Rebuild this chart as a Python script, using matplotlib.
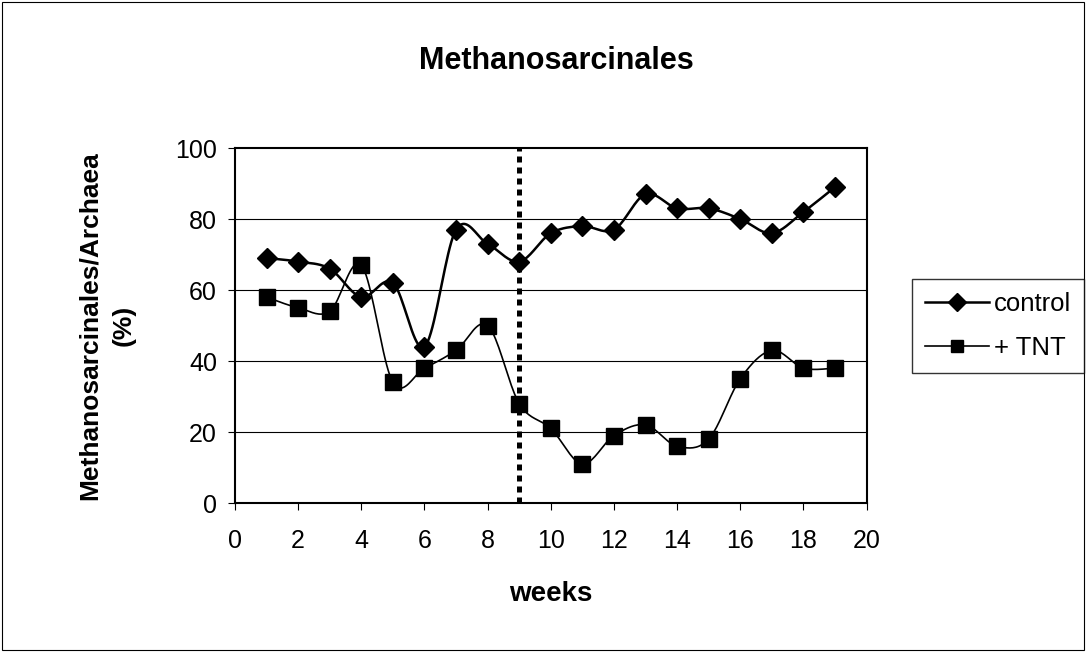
import numpy as np
import matplotlib.pyplot as plt
from matplotlib.lines import Line2D

plt.rcParams['font.family'] = ['Liberation Sans', 'DejaVu Sans']

weeks = list(range(1, 20))
control = [69, 68, 66, 58, 62, 44, 77, 73, 68, 76, 78, 77, 87, 83, 83, 80, 76, 82, 89]
tnt = [58, 55, 54, 67, 34, 38, 43, 50, 28, 21, 11, 19, 22, 16, 18, 35, 43, 38, 38]
treatment_week = 9


def smooth(x, y, n=20):
    # catmull-rom curve through the points, like excel's smoothed line
    x = np.asarray(x, float)
    y = np.asarray(y, float)
    px = np.concatenate([[x[0]], x, [x[-1]]])
    py = np.concatenate([[y[0]], y, [y[-1]]])
    xs, ys = [], []
    for i in range(1, len(px) - 2):
        t = np.linspace(0, 1, n, endpoint=False)
        for p, out in ((px, xs), (py, ys)):
            p0, p1, p2, p3 = p[i - 1], p[i], p[i + 1], p[i + 2]
            out.extend(0.5 * ((2 * p1) + (-p0 + p2) * t
                              + (2 * p0 - 5 * p1 + 4 * p2 - p3) * t ** 2
                              + (-p0 + 3 * p1 - 3 * p2 + p3) * t ** 3))
    xs.append(x[-1])
    ys.append(y[-1])
    return np.array(xs), np.array(ys)


fig = plt.figure(figsize=(10.86, 6.52), dpi=100)
fig.patches.append(plt.Rectangle((0.002, 0.003), 0.996, 0.994, transform=fig.transFigure,
                                 fill=False, edgecolor='black', linewidth=0.8))
ax = fig.add_axes([0.2164, 0.2285, 0.5816, 0.5445])

for v in [20, 40, 60, 80]:
    ax.axhline(v, color='black', linewidth=0.8, zorder=1)

ax.axvline(treatment_week, color='black', linewidth=3.6, linestyle=(0, (1.2, 1.0)),
           dash_capstyle='butt', zorder=2)

sx, sy = smooth(weeks, control)
ax.plot(sx, sy, color='black', linewidth=1.8, zorder=3)
ax.plot(weeks, control, linestyle='none', marker='D', markersize=10.5, color='black', zorder=4)
sx, sy = smooth(weeks, tnt)
ax.plot(sx, sy, color='black', linewidth=1.2, zorder=3)
ax.plot(weeks, tnt, linestyle='none', marker='s', markersize=11, color='black', zorder=4)

ax.set_xlim(0, 20)
ax.set_ylim(0, 100)
ax.set_xticks(range(0, 21, 2))
ax.set_yticks(range(0, 101, 20))
ax.tick_params(labelsize=18, direction='out', length=5)
ax.tick_params(axis='x', pad=14)
ax.tick_params(axis='y', pad=8)
for s in ax.spines.values():
    s.set_linewidth(1.5)

ax.set_xlabel('weeks', fontsize=20, fontweight='bold', labelpad=20)
fig.text(0.0985, 0.5008, 'Methanosarcinales/Archaea\n(%)', fontsize=19, fontweight='bold',
         rotation=90, ha='center', va='center', multialignment='center', linespacing=1.5)
fig.text(0.512, 0.907, 'Methanosarcinales', fontsize=22, fontweight='bold', ha='center', va='center')

handles = [Line2D([], [], color='black', linewidth=1.8, marker='D', markersize=9),
           Line2D([], [], color='black', linewidth=1.2, marker='s', markersize=9)]
fig.legend(handles, ['control', '+ TNT'], loc='upper left', bbox_to_anchor=(0.8398, 0.572),
           fontsize=18.5, frameon=True, fancybox=False, edgecolor='black', handlelength=2.5,
           handletextpad=0.2, borderpad=0.5, labelspacing=0.8, borderaxespad=0)

fig.savefig('out.png', dpi=100)
